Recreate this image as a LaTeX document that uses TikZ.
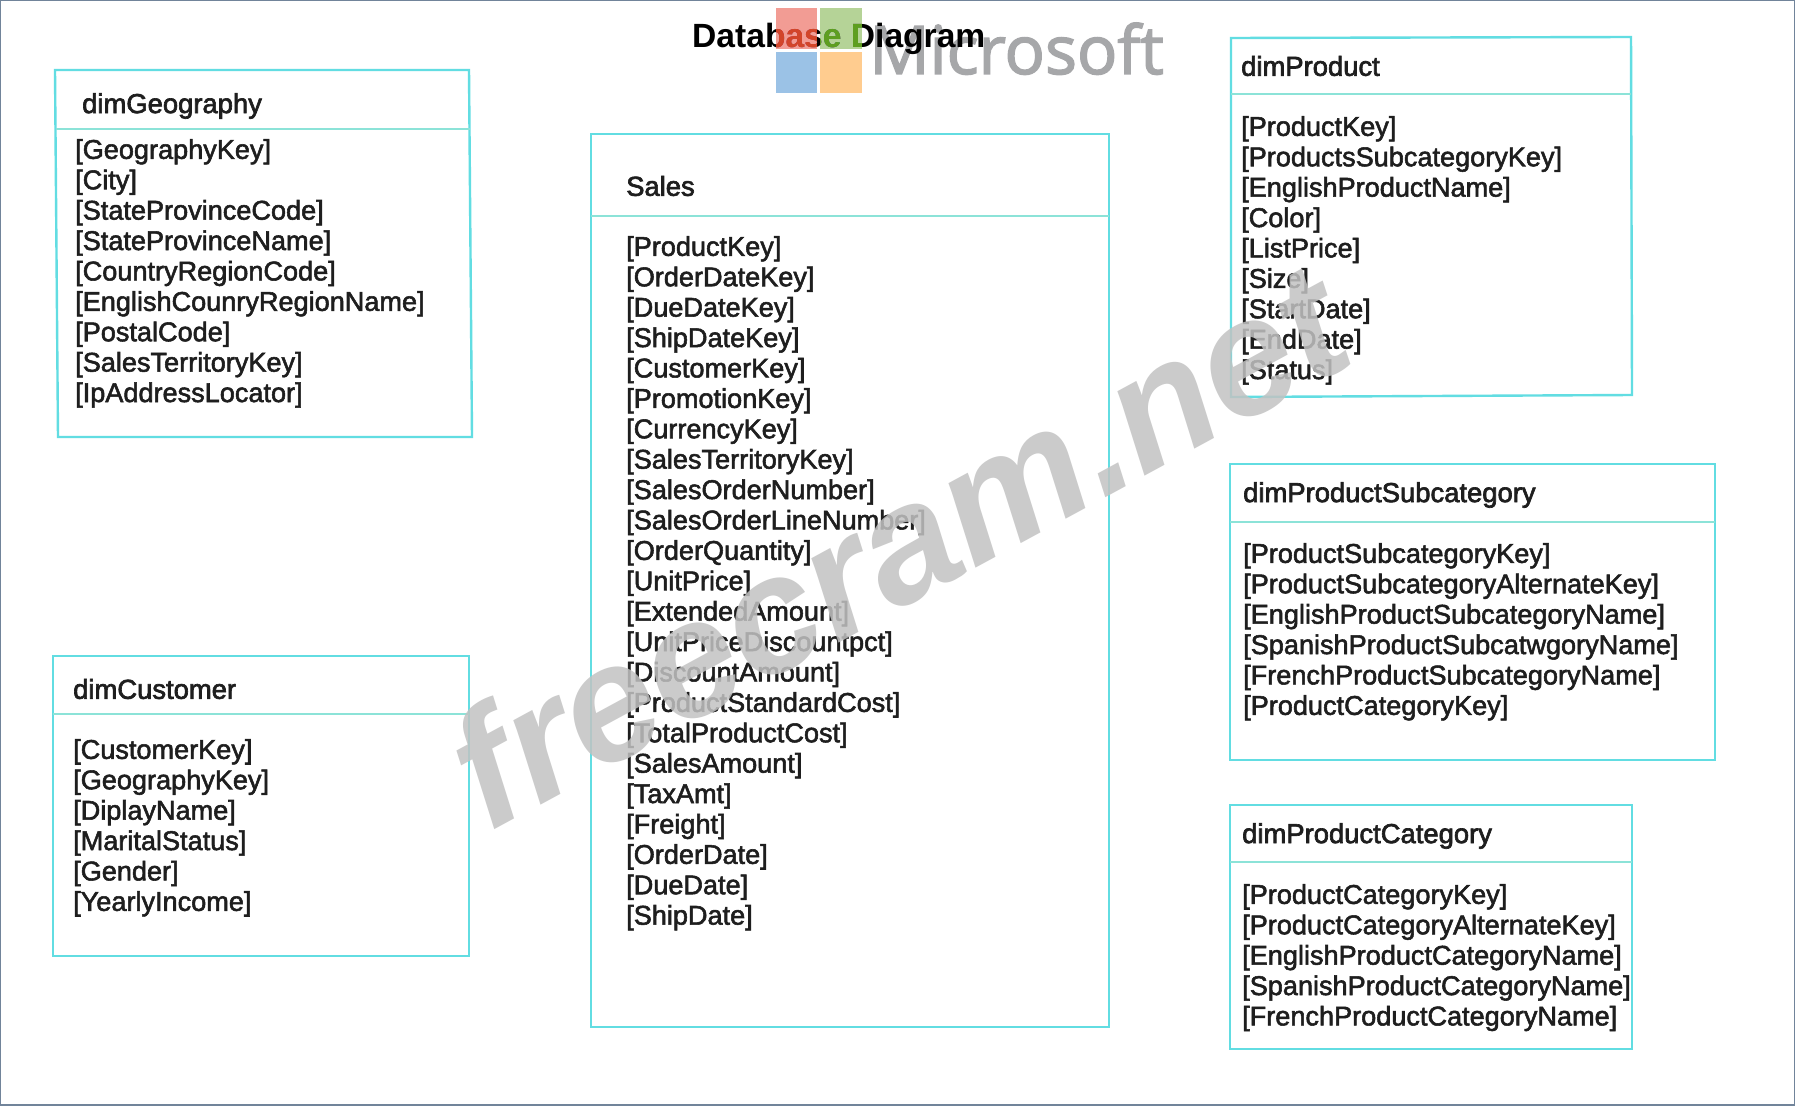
\documentclass[tikz,border=0pt]{standalone}
\usepackage{fontspec}
\setmainfont{Liberation Sans}
\newfontfamily\logofont[FakeBold=2.2]{Open Sans}
\newfontfamily\semifont[FakeBold=2]{Liberation Sans}
\newfontfamily\headfont[FakeBold=2.4]{Liberation Sans}
\newfontfamily\markfont[BoldFont={Liberation Sans Bold},ItalicFont={Liberation Sans Bold Italic}]{Liberation Sans}
\definecolor{tblcyan}{HTML}{62DDE2}
\definecolor{tbldiv}{HTML}{8CE3D8}
\definecolor{frameblue}{HTML}{71849A}
\definecolor{txt}{HTML}{1E1E1E}
\definecolor{logored}{HTML}{F29C94}
\definecolor{logogreen}{HTML}{B5D397}
\definecolor{logoblue}{HTML}{9BC2E6}
\definecolor{logoorange}{HTML}{FFCC8F}
\definecolor{logotext}{HTML}{A6A7A9}
\definecolor{inkred}{HTML}{D2452A}
\definecolor{inkgreen}{HTML}{5E9E20}
\definecolor{markgrey}{HTML}{C2C2C2}
\tikzset{
  tbl/.style={draw=tblcyan,line width=2.4pt,line join=miter},
  tdiv/.style={draw=tbldiv,line width=1.6pt},
  ttitle/.style={anchor=west,inner sep=0pt,text=txt,font={\headfont\fontsize{27.4}{30}\selectfont}},
  tfields/.style={anchor=north west,inner sep=0pt,align=left,text=txt,font={\semifont\fontsize{27.1}{30.4}\selectfont}},
}
\begin{document}
\begin{tikzpicture}[x=1pt,y=-1pt]
\useasboundingbox (0,0) rectangle (1795,1105);
\fill[white] (0,0) rectangle (1795,1105);
\draw[frameblue,line width=1.6pt] (0,0) rectangle (1795,1105);

% logo
\fill[logored] (776,8) rectangle (817,49);
\fill[logogreen] (820,8) rectangle (862,49);
\fill[logoblue] (776,52) rectangle (817,93);
\fill[logoorange] (820,52) rectangle (862,93);
\node[anchor=base west,inner sep=0pt,text=logotext,font={\logofont\fontsize{67}{70}\selectfont}] (logo) at (869,74) {Microsoft};
\node[anchor=base west,inner sep=0pt,text=black,font={\fontsize{33.6}{36}\selectfont\bfseries}] (title) at (692,48) {Database Diagram};
\fill[inkred,blend mode=lighten] (776,8) rectangle (817,49);
\fill[inkgreen,blend mode=lighten] (820,8) rectangle (862,49);

% dimGeography
\draw[tbl] (55,70) -- (469,70) -- (472,437) -- (58,437) -- cycle;
\draw[tdiv] (56,129) -- (470,129);
\node[ttitle] (geoT) at (82,106) {dimGeography};
\node[tfields] (geoF) at (75,139) {{[GeographyKey]}\\{[City]}\\{[StateProvinceCode]}\\{[StateProvinceName]}\\{[CountryRegionCode]}\\{[EnglishCounryRegionName]}\\{[PostalCode]}\\{[SalesTerritoryKey]}\\{[IpAddressLocator]}};

% dimCustomer
\draw[tbl] (53,656) -- (469,656) -- (469,956) -- (53,956) -- cycle;
\draw[tdiv] (53,714) -- (469,714);
\node[ttitle] (custT) at (73,689) {dimCustomer};
\node[tfields] (custF) at (73,739) {{[CustomerKey]}\\{[GeographyKey]}\\{[DiplayName]}\\{[MaritalStatus]}\\{[Gender]}\\{[YearlyIncome]}};

% Sales
\draw[tbl] (591,134) -- (1109,134) -- (1109,1027) -- (591,1027) -- cycle;
\draw[tdiv] (591,216) -- (1109,216);
\node[ttitle] (salesT) at (626,186) {Sales};
\node[tfields] (salesF) at (626,236) {{[ProductKey]}\\{[OrderDateKey]}\\{[DueDateKey]}\\{[ShipDateKey]}\\{[CustomerKey]}\\{[PromotionKey]}\\{[CurrencyKey]}\\{[SalesTerritoryKey]}\\{[SalesOrderNumber]}\\{[SalesOrderLineNumber]}\\{[OrderQuantity]}\\{[UnitPrice]}\\{[ExtendedAmount]}\\{[UnitPriceDiscountpct]}\\{[DiscountAmount]}\\{[ProductStandardCost]}\\{[TotalProductCost]}\\{[SalesAmount]}\\{[TaxAmt]}\\{[Freight]}\\{[OrderDate]}\\{[DueDate]}\\{[ShipDate]}};

% dimProduct
\draw[tbl] (1231,38) -- (1631,37) -- (1632,395) -- (1231,397) -- cycle;
\draw[tdiv] (1231,94) -- (1631,94);
\node[ttitle] (prodT) at (1241,66) {dimProduct};
\node[tfields] (prodF) at (1241,116) {{[ProductKey]}\\{[ProductsSubcategoryKey]}\\{[EnglishProductName]}\\{[Color]}\\{[ListPrice]}\\{[Size]}\\{[StartDate]}\\{[EndDate]}\\{[Status]}};

% dimProductSubcategory
\draw[tbl] (1230,464) -- (1715,464) -- (1715,760) -- (1230,760) -- cycle;
\draw[tdiv] (1230,522) -- (1715,522);
\node[ttitle] (subT) at (1243,495) {dimProductSubcategory};
\node[tfields] (subF) at (1243,543) {{[ProductSubcategoryKey]}\\{[ProductSubcategoryAlternateKey]}\\{[EnglishProductSubcategoryName]}\\{[SpanishProductSubcatwgoryName]}\\{[FrenchProductSubcategoryName]}\\{[ProductCategoryKey]}};

% dimProductCategory
\draw[tbl] (1230,805) -- (1632,805) -- (1632,1049) -- (1230,1049) -- cycle;
\draw[tdiv] (1230,862) -- (1632,862);
\node[ttitle] (catT) at (1242,836) {dimProductCategory};
\node[tfields] (catF) at (1242,884) {{[ProductCategoryKey]}\\{[ProductCategoryAlternateKey]}\\{[EnglishProductCategoryName]}\\{[SpanishProductCategoryName]}\\{[FrenchProductCategoryName]}};

% watermark
\node[anchor=base,inner sep=0pt,rotate=28.5,opacity=0.85,text=markgrey,font={\markfont\fontsize{165}{170}\selectfont\bfseries\itshape}] (mark) at (925,596) {freecram.net};
\end{tikzpicture}
\end{document}
